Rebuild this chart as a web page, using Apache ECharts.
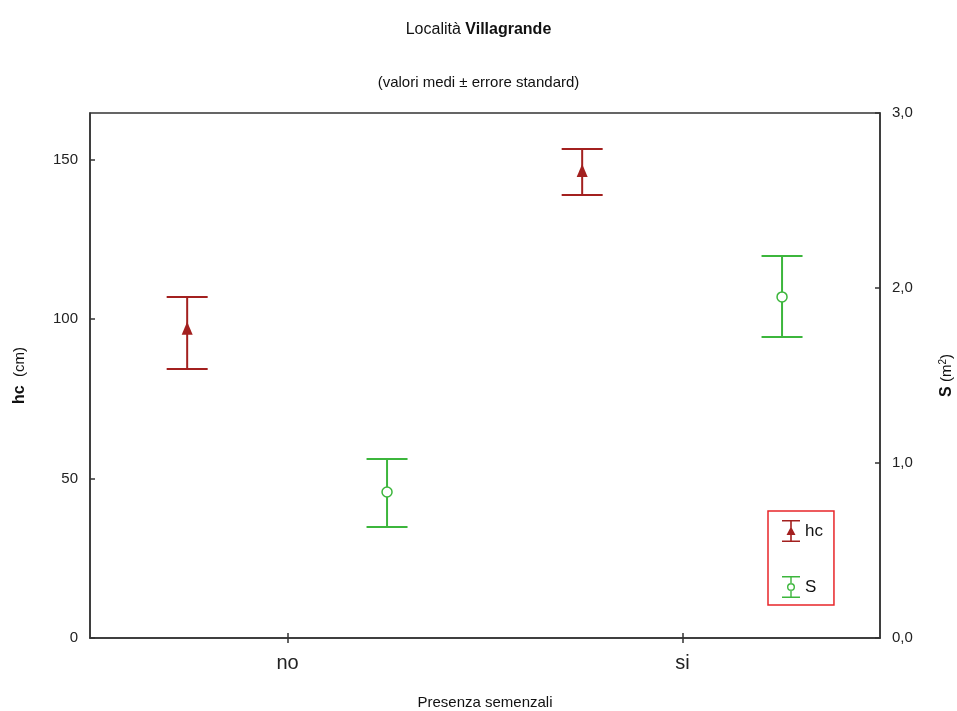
<!DOCTYPE html>
<html>
<head>
<meta charset="utf-8">
<script src="https://cdn.jsdelivr.net/npm/echarts@6/dist/echarts.min.js"></script>
<style>
  html, body { margin: 0; padding: 0; background: #fff; }
  #chart { width: 957px; height: 711px; }
</style>
</head>
<body>
<div id="chart"></div>
<script>
// categories and values
var categories = ['no', 'si'];
var hcMean = [96.7, 146.2];
var hcLow = [84.4, 139.0];
var hcHigh = [107.0, 153.4];
var sMean = [0.834, 1.949];
var sLow = [0.634, 1.72];
var sHigh = [1.023, 2.183];

var leftTicks = [0, 50, 100, 150];
var rightTicks = [0, 1, 2, 3];

var RED = '#a3201f';
var GREEN = '#3cb63c';
var FONT = '"Liberation Sans", Arial, sans-serif';

function rows(mean, low, high) {
    return categories.map(function (c, i) { return [i, mean[i], low[i], high[i]]; });
}

// draws one error bar with its marker, shifted within the category band
function makeRender(color, shift, marker) {
    return function (params, api) {
        var band = api.size([1, 0])[0];
        var dx = band * shift;
        var pm = api.coord([api.value(0), api.value(1)]);
        var pl = api.coord([api.value(0), api.value(2)]);
        var ph = api.coord([api.value(0), api.value(3)]);
        var x = pm[0] + dx;
        var half = 20.5;
        var ls = { stroke: color, lineWidth: 2 };
        var children = [
            { type: 'line', shape: { x1: x, y1: ph[1], x2: x, y2: pl[1] }, style: ls },
            { type: 'line', shape: { x1: x - half, y1: ph[1], x2: x + half, y2: ph[1] }, style: ls },
            { type: 'line', shape: { x1: x - half, y1: pl[1], x2: x + half, y2: pl[1] }, style: ls }
        ];
        if (marker === 'triangle') {
            children.push({ type: 'polygon', shape: { points: [[x, pm[1] - 8], [x - 5.5, pm[1] + 5], [x + 5.5, pm[1] + 5]] },
                style: { fill: color } });
        } else {
            children.push({ type: 'circle', shape: { cx: x, cy: pm[1], r: 5 },
                style: { fill: '#fff', stroke: color, lineWidth: 1.5 } });
        }
        return { type: 'group', children: children };
    };
}

var hcIcon = 'path://M0 0H18V1.6H0Z M8.2 0H9.8V22H8.2Z M0 20.4H18V22H0Z M4.5 15L9 6.5L13.5 15Z';
var sIcon = 'path://M0 0H18V1.6H0Z M8.3 0H9.7V7.2H8.3Z M8.3 14.8H9.7V22H8.3Z M0 20.4H18V22H0Z ' +
    'M13 11A4 4 0 1 0 5 11A4 4 0 1 0 13 11Z M11.6 11A2.6 2.6 0 1 1 6.4 11A2.6 2.6 0 1 1 11.6 11Z';

var chart = echarts.init(document.getElementById('chart'), null, { renderer: 'canvas' });

var tickStyle = { show: true, inside: true, length: 5, lineStyle: { color: '#333', width: 1.5 } };

chart.setOption({
    animation: false,
    backgroundColor: '#fff',
    textStyle: { fontFamily: FONT },
    title: [
        {
            text: '{n|Località }{b|Villagrande}',
            left: 'center', top: 17,
            textStyle: {
                rich: {
                    n: { fontSize: 16, color: '#111', fontWeight: 'normal', fontFamily: FONT },
                    b: { fontSize: 16, color: '#111', fontWeight: 'bold', fontFamily: FONT }
                }
            }
        },
        {
            text: '(valori medi ± errore standard)',
            left: 'center', top: 70,
            textStyle: { fontSize: 15, color: '#111', fontWeight: 'normal', fontFamily: FONT }
        }
    ],
    grid: {
        left: 90, right: 77, top: 113, bottom: 73,
        outerBoundsMode: 'none',
        containLabel: false,
        show: true, borderColor: '#333', borderWidth: 1.5
    },
    legend: {
        orient: 'vertical',
        left: 768, top: 511,
        padding: [9, 11, 7, 14],
        itemWidth: 18, itemHeight: 22, itemGap: 34,
        borderColor: '#e8262a', borderWidth: 1.5,
        textStyle: { fontSize: 17, color: '#111', fontFamily: FONT },
        data: [{ name: 'hc', icon: hcIcon }, { name: 'S', icon: sIcon }]
    },
    xAxis: [
        {
            type: 'category',
            data: categories,
            position: 'bottom',
            axisLine: { show: true, lineStyle: { color: '#333', width: 1.5 } },
            axisTick: Object.assign({ alignWithLabel: true }, tickStyle),
            axisLabel: { fontSize: 20, color: '#222', margin: 15 },
            name: 'Presenza semenzali',
            nameLocation: 'middle',
            nameGap: 57,
            nameTextStyle: { fontSize: 15, color: '#111' },
            splitLine: { show: false }
        },
        {
            type: 'category',
            data: categories,
            position: 'top',
            axisLine: { show: false },
            axisTick: Object.assign({ alignWithLabel: true }, tickStyle),
            axisLabel: { show: false },
            splitLine: { show: false }
        }
    ],
    yAxis: [
        {
            type: 'value',
            min: leftTicks[0], max: 164.7, interval: 50,
            position: 'left',
            axisLine: { show: true, lineStyle: { color: '#333', width: 1.5 } },
            axisTick: tickStyle,
            axisLabel: {
                fontSize: 15, color: '#222', margin: 12,
                showMaxLabel: false,
                formatter: function (v) { return leftTicks.indexOf(v) >= 0 ? String(v) : ''; }
            },
            splitLine: { show: false },
            name: '{b|hc}{n|  (cm)}',
            nameLocation: 'middle',
            nameRotate: 90,
            nameGap: 62,
            nameTextStyle: {
                rich: {
                    b: { fontSize: 16, fontWeight: 'bold', color: '#111', fontFamily: FONT },
                    n: { fontSize: 15, color: '#111', fontFamily: FONT }
                }
            }
        },
        {
            type: 'value',
            min: rightTicks[0], max: rightTicks[rightTicks.length - 1], interval: 1,
            position: 'right',
            axisLine: { show: true, lineStyle: { color: '#333', width: 1.5 } },
            axisTick: tickStyle,
            axisLabel: {
                fontSize: 15, color: '#222', margin: 12,
                formatter: function (v) { return v.toFixed(1).replace('.', ','); }
            },
            splitLine: { show: false },
            name: '{b|S}{n| (m}{s|2}{n|)}',
            nameLocation: 'middle',
            nameRotate: 90,
            nameGap: 58,
            nameTextStyle: {
                rich: {
                    b: { fontSize: 16, fontWeight: 'bold', color: '#111', fontFamily: FONT },
                    n: { fontSize: 15, color: '#111', fontFamily: FONT },
                    s: { fontSize: 10, color: '#111', fontFamily: FONT, verticalAlign: 'top', padding: [0, 0, 8, 0] }
                }
            }
        }
    ],
    series: [
        {
            name: 'hc',
            type: 'custom',
            xAxisIndex: 0, yAxisIndex: 0,
            itemStyle: { color: RED },
            renderItem: makeRender(RED, -0.254, 'triangle'),
            encode: { x: 0, y: [1, 2, 3] },
            data: rows(hcMean, hcLow, hcHigh)
        },
        {
            name: 'S',
            type: 'custom',
            xAxisIndex: 0, yAxisIndex: 1,
            itemStyle: { color: GREEN },
            renderItem: makeRender(GREEN, 0.252, 'circle'),
            encode: { x: 0, y: [1, 2, 3] },
            data: rows(sMean, sLow, sHigh)
        }
    ]
});
</script>
</body>
</html>
